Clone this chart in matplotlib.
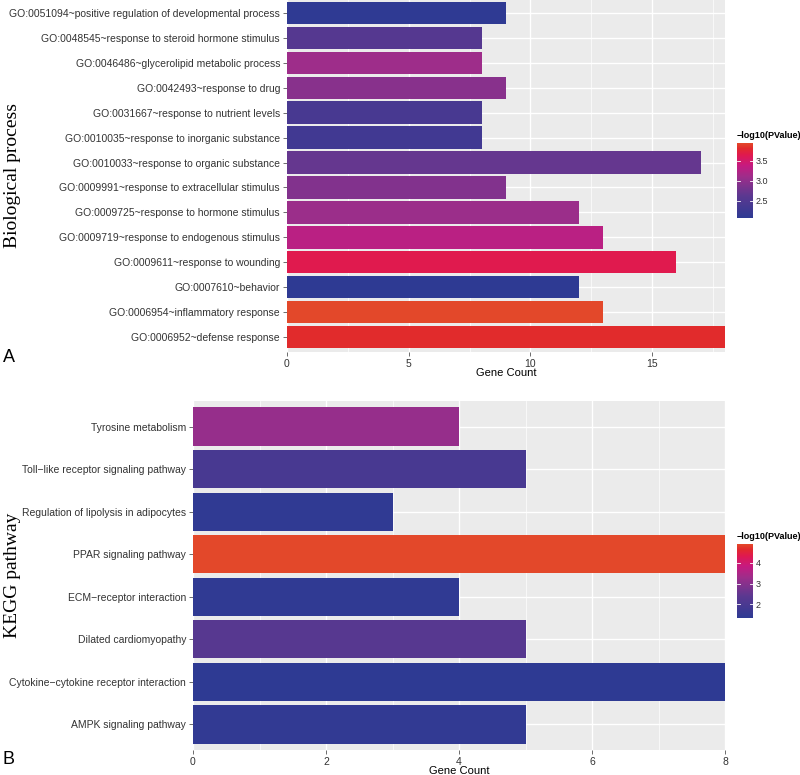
import matplotlib
matplotlib.use("Agg")
import matplotlib.pyplot as plt
import numpy as np
from matplotlib.colors import LinearSegmentedColormap, Normalize
from matplotlib.cm import ScalarMappable

# Panel A: GO biological process (top to bottom as drawn)
bp_terms = [
    "GO:0051094~positive regulation of developmental process",
    "GO:0048545~response to steroid hormone stimulus",
    "GO:0046486~glycerolipid metabolic process",
    "GO:0042493~response to drug",
    "GO:0031667~response to nutrient levels",
    "GO:0010035~response to inorganic substance",
    "GO:0010033~response to organic substance",
    "GO:0009991~response to extracellular stimulus",
    "GO:0009725~response to hormone stimulus",
    "GO:0009719~response to endogenous stimulus",
    "GO:0009611~response to wounding",
    "GO:0007610~behavior",
    "GO:0006954~inflammatory response",
    "GO:0006952~defense response",
]
bp_counts = [9, 8, 8, 9, 8, 8, 17, 9, 12, 13, 16, 12, 13, 18]
bp_logp = [2.08, 2.55, 3.1, 2.95, 2.4, 2.3, 2.7, 2.9, 3.08, 3.3, 3.65, 2.07, 3.95, 3.82]

# Panel B: KEGG pathways (top to bottom as drawn)
kegg_terms = [
    "Tyrosine metabolism",
    "Toll\u2212like receptor signaling pathway",
    "Regulation of lipolysis in adipocytes",
    "PPAR signaling pathway",
    "ECM\u2212receptor interaction",
    "Dilated cardiomyopathy",
    "Cytokine\u2212cytokine receptor interaction",
    "AMPK signaling pathway",
]
kegg_counts = [4, 5, 3, 8, 4, 5, 8, 5]
kegg_logp = [3.2, 1.95, 1.4, 4.9, 1.4, 2.3, 1.35, 1.45]

cmap = LinearSegmentedColormap.from_list(
    "bluered",
    [(0.0, "#2E3A93"), (0.3, "#5C3890"), (0.55, "#9E2D8A"),
     (0.7, "#C61A80"), (0.84, "#E0194F"), (0.93, "#E12A2C"), (1.0, "#E3482A")],
)

plt.rcParams["font.family"] = ["Liberation Sans", "DejaVu Sans"]

W, H = 800, 775
fig = plt.figure(figsize=(W / 100, H / 100), dpi=100)


def px_axes(left, top, right, bottom):
    return fig.add_axes([left / W, 1 - bottom / H, (right - left) / W, (bottom - top) / H])


def draw_panel(ax, terms, counts, logp, xmax, xticks):
    n = len(terms)
    pos = np.arange(n)
    norm = Normalize(vmin=min(logp), vmax=max(logp))
    ax.set_facecolor("#EBEBEB")
    ax.barh(pos, counts, height=0.9, color=cmap(norm(np.array(logp))), zorder=3)
    ax.set_xlim(0, xmax)
    ax.set_ylim(n - 0.4, -0.6)
    ax.set_yticks(pos)
    ax.set_yticklabels(terms, fontsize=7.5, color="#333333")
    ax.set_xticks(xticks)
    ax.set_xticklabels([str(t) for t in xticks], fontsize=7.5, color="#333333")
    minor = [(a + b) / 2 for a, b in zip(xticks[:-1], xticks[1:])]
    if xticks[-1] < xmax:
        minor.append(xticks[-1] + (xticks[1] - xticks[0]) / 2)
    ax.set_xticks(minor, minor=True)
    ax.grid(which="major", color="white", linewidth=1.0, zorder=0)
    ax.grid(which="minor", axis="x", color="white", linewidth=0.5, zorder=0)
    ax.tick_params(which="major", length=3, width=0.5, color="#333333", pad=2)
    ax.tick_params(which="minor", length=0)
    for s in ax.spines.values():
        s.set_visible(False)
    ax.set_xlabel("Gene Count", fontsize=8, color="black", labelpad=-1)
    return norm


def draw_colorbar(rect, norm, ticks, title, title_y):
    cax = px_axes(*rect)
    cb = fig.colorbar(ScalarMappable(norm=norm, cmap=cmap), cax=cax)
    cb.outline.set_visible(False)
    cb.set_ticks(ticks)
    cb.set_ticklabels([str(t) for t in ticks])
    cax.tick_params(labelsize=6.5, colors="#333333", length=0, pad=2)
    for t in ticks:
        cax.plot([0, 0.2], [t, t], color="white", lw=0.6, transform=cax.get_yaxis_transform())
        cax.plot([0.8, 1.0], [t, t], color="white", lw=0.6, transform=cax.get_yaxis_transform())
    fig.text(rect[0] / W, 1 - title_y / H, title, fontsize=6.5, fontweight="bold",
             ha="left", va="bottom")


# Panel A
axA = px_axes(287, -2, 725, 352)
normA = draw_panel(axA, bp_terms, bp_counts, bp_logp, 18, [0, 5, 10, 15])
draw_colorbar((737, 143, 753, 218), normA, [2.5, 3.0, 3.5], "\u2212log10(PValue)", 140)
fig.text(13 / W, 1 - 176 / H, "Biological process", family="Liberation Serif",
         fontsize=14, rotation=90, ha="center", va="center")
fig.text(3 / W, 1 - 358 / H, "A", fontsize=13, ha="left", va="center")

# Panel B
axB = px_axes(193, 401, 725, 750)
normB = draw_panel(axB, kegg_terms, kegg_counts, kegg_logp, 8, [0, 2, 4, 6, 8])
draw_colorbar((737, 544, 753, 618), normB, [2, 3, 4], "\u2212log10(PValue)", 541)
fig.text(13 / W, 1 - 575 / H, "KEGG pathway", family="Liberation Serif",
         fontsize=14, rotation=90, ha="center", va="center")
fig.text(3 / W, 1 - 760 / H, "B", fontsize=13, ha="left", va="center")

fig.savefig("out.png", dpi=100)
